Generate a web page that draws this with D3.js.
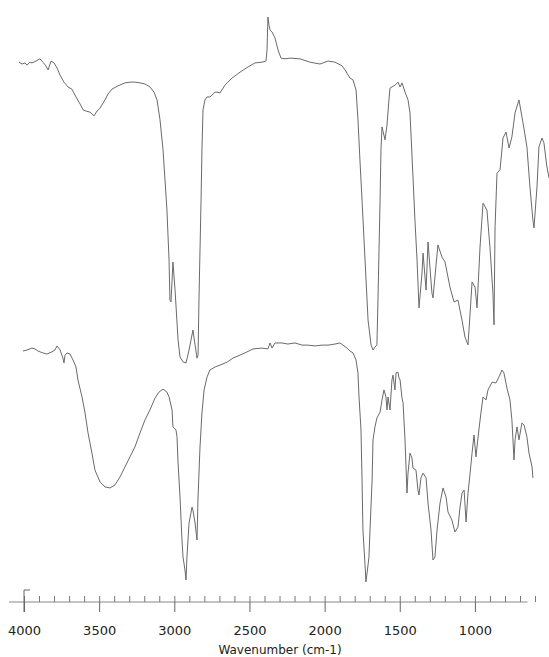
<!DOCTYPE html>
<html>
<head>
<meta charset="utf-8">
<script src="https://cdn.jsdelivr.net/npm/d3@7"></script>
<style>
  body { margin: 0; background: #fff; }
  svg { display: block; }
</style>
</head>
<body>
<script>
// Upper spectrum: wavenumber (cm-1) and relative transmittance
const topWavenumber = [
  4033,4013,3993,3980,3960,3947,3920,3894,3874,3854,
  3840,3820,3800,3780,3760,3734,3707,3681,3654,3627,
  3607,3588,3561,3534,3514,3494,3461,3441,3415,3375,
  3328,3295,3262,3228,3195,3162,3135,3115,3095,3075,
  3062,3049,3035,3029,3022,3009,2995,2975,2962,2942,
  2922,2902,2876,2862,2849,2842,2836,2829,2822,2816,
  2809,2796,2782,2763,2749,2729,2716,2696,2683,2663,
  2616,2563,2510,2463,2417,2390,2383,2377,2370,2363,
  2350,2330,2310,2290,2264,2230,2164,2097,2031,1977,
  1931,1884,1864,1831,1811,1791,1778,1765,1751,1731,
  1711,1691,1678,1665,1652,1645,1638,1631,1625,1618,
  1598,1585,1572,1565,1552,1532,1512,1498,1485,1465,
  1445,1432,1412,1399,1385,1372,1352,1345,1325,1312,
  1286,1279,1246,1219,1199,1166,1139,1113,1086,1066,
  1046,1032,1019,999,986,966,946,920,900,880,
  873,866,853,833,813,793,773,754,733,707,
  680,654,634,614,607,587,574,554,541,521,
  507
];
const topTransmittance = [
  85.9,85.4,85.7,85.1,85.9,85.7,86.2,86.8,85.9,84.9,
  83.8,86.2,85.7,84.3,82.4,80.5,79.2,78.6,76.5,74.6,
  73.0,72.7,72.4,71.4,72.7,73.5,75.7,77.3,78.6,79.5,
  80.3,80.5,80.5,80.3,80.0,79.2,77.8,75.7,70.3,62.2,
  54.1,45.9,32.4,21.6,21.1,31.9,24.3,10.8,6.2,4.9,
  4.6,8.1,13.5,9.5,5.9,6.8,21.6,35.1,48.6,62.2,
  73.0,75.7,76.5,76.5,77.0,77.8,77.8,77.6,78.4,79.7,
  81.6,83.2,84.6,85.7,85.9,86.2,89.2,98.1,95.9,94.6,
  94.1,92.4,89.2,87.0,86.8,87.0,86.8,85.9,85.4,86.2,
  85.9,84.9,83.8,81.6,81.1,78.4,70.3,59.5,48.6,32.4,
  16.2,9.5,8.1,8.9,9.5,21.6,35.1,48.6,62.2,68.4,
  64.9,68.9,75.7,78.9,79.2,79.7,80.5,79.2,80.3,77.8,
  75.7,72.2,54.9,43.2,32.4,19.5,28.9,34.3,24.3,37.3,
  23.5,22.2,36.5,33.2,31.9,25.1,21.1,21.6,16.2,11.6,
  9.5,18.1,26.5,25.1,19.5,35.9,47.8,45.9,35.9,23.5,
  14.9,41.4,55.9,56.8,65.4,67.0,62.7,65.7,72.2,75.7,
  69.5,63.0,52.2,43.2,41.1,52.2,63.0,65.4,64.1,57.6,
  54.6
];

// Lower spectrum
const bottomWavenumber = [
  4007,3980,3947,3927,3907,3874,3847,3814,3794,3780,
  3760,3741,3734,3727,3714,3694,3674,3654,3641,3614,
  3594,3574,3548,3528,3494,3461,3428,3395,3361,3328,
  3295,3262,3228,3195,3162,3128,3102,3075,3049,3035,
  3015,3009,2989,2982,2975,2962,2949,2942,2929,2922,
  2916,2902,2882,2876,2862,2849,2842,2829,2816,2802,
  2782,2763,2729,2696,2649,2610,2563,2516,2476,2417,
  2377,2363,2350,2330,2284,2244,2197,2150,2111,2064,
  2017,1977,1931,1898,1878,1851,1831,1811,1791,1778,
  1771,1758,1751,1745,1731,1725,1711,1705,1698,1684,
  1678,1665,1652,1631,1618,1605,1592,1585,1578,1565,
  1552,1545,1532,1525,1512,1505,1498,1485,1478,1465,
  1452,1445,1432,1419,1412,1392,1379,1372,1359,1345,
  1325,1312,1292,1279,1266,1252,1232,1212,1192,1179,
  1153,1133,1113,1099,1086,1072,1059,1046,1032,1019,
  1006,993,979,960,946,926,913,886,860,840,
  820,807,787,767,754,740,733,720,707,687,
  673,654,640,620,614
];
const bottomTransmittance = [
  92.2,92.6,93.3,93.0,92.2,91.5,91.1,91.9,92.6,94.1,
  92.6,89.6,87.8,90.7,91.5,91.1,88.9,86.3,81.5,75.2,
  69.3,61.9,54.4,48.1,43.7,41.9,41.5,42.6,45.6,49.3,
  53.0,56.7,61.9,66.7,70.4,74.8,77.0,78.1,77.0,75.2,
  70.4,64.1,63.0,60.4,50.7,38.1,22.2,15.9,11.1,7.4,
  15.9,28.5,34.4,33.3,28.5,22.2,38.1,56.7,69.3,77.8,
  82.6,85.2,86.3,87.0,88.1,89.6,90.7,91.9,93.0,93.3,
  93.0,95.2,93.3,95.2,95.2,94.8,95.2,94.4,94.4,94.1,
  94.4,94.4,94.8,95.2,94.4,93.3,92.2,91.5,88.9,84.1,
  75.2,63.0,44.4,25.9,13.0,6.7,13.0,15.9,25.9,44.4,
  59.3,64.1,67.4,69.6,74.1,77.8,75.2,70.4,75.2,70.4,
  81.5,83.3,77.8,84.1,84.4,82.2,81.5,74.8,73.0,59.3,
  39.6,47.0,54.4,52.6,48.9,48.1,40.7,38.9,45.2,47.0,
  45.2,35.9,25.9,14.8,15.9,25.9,35.9,41.5,38.1,32.6,
  29.6,25.2,27.0,34.4,39.6,40.7,28.9,39.6,47.0,54.4,
  61.1,53.0,60.4,69.3,75.2,74.1,77.8,80.7,80.4,82.6,
  85.2,84.1,78.5,74.1,66.7,51.9,59.3,64.1,59.3,65.6,
  64.8,60.4,54.4,49.3,45.2
];

// Axis ticks
const majorTicks = [4000, 3500, 3000, 2500, 2000, 1500, 1000];
const tickLabels = ["4000", "3500", "3000", "2500", "2000", "1500", "1000"];
const minorTicks = d3.range(4000, 599, -100);
const axisExtent = [4100, 650];
const axisTitle = "Wavenumber (cm-1)";

const W = 549, H = 657;
const svg = d3.select("body").append("svg")
  .attr("width", W).attr("height", H)
  .attr("viewBox", `0 0 ${W} ${H}`);

const x = d3.scaleLinear().domain([4000, 400]).range([24, 565.1]);
const yTop = d3.scaleLinear().domain([0, 100]).range([380, 10]);
const yBottom = d3.scaleLinear().domain([0, 100]).range([600, 330]);

function drawSpectrum(wn, tr, y) {
  const pts = d3.zip(wn, tr);
  const line = d3.line().x(d => x(d[0])).y(d => y(d[1]));
  svg.append("path")
    .datum(pts)
    .attr("d", line)
    .attr("fill", "none")
    .attr("stroke", "#6a6a6a")
    .attr("stroke-width", 1)
    .attr("stroke-linejoin", "round");
}
drawSpectrum(topWavenumber, topTransmittance, yTop);
drawSpectrum(bottomWavenumber, bottomTransmittance, yBottom);

// Wavenumber axis
const axisY = 602;
const axisG = svg.append("g").attr("transform", `translate(0,${axisY})`);

axisG.append("line")
  .attr("x1", x(axisExtent[0])).attr("x2", x(axisExtent[1]))
  .attr("stroke", "#888").attr("stroke-width", 1);

const minorAxis = axisG.append("g")
  .call(d3.axisBottom(x).tickValues(minorTicks).tickSize(-6).tickFormat(""));
minorAxis.select(".domain").remove();
minorAxis.selectAll("line").attr("stroke", "#777");

const majorAxis = axisG.append("g")
  .call(d3.axisBottom(x).tickValues(majorTicks).tickSize(10).tickPadding(14)
    .tickFormat((d, i) => tickLabels[i]));
majorAxis.select(".domain").remove();
majorAxis.selectAll("line").attr("stroke", "#666");
majorAxis.selectAll("text")
  .attr("font-family", "'DejaVu Sans', sans-serif")
  .attr("font-size", 13)
  .attr("fill", "#222");

// Taller start mark at the high-wavenumber end of the axis
axisG.append("line")
  .attr("x1", x(majorTicks[0])).attr("x2", x(majorTicks[0]))
  .attr("y1", -12).attr("y2", 10)
  .attr("stroke", "#666");
axisG.append("line")
  .attr("x1", x(majorTicks[0])).attr("x2", x(majorTicks[0]) + 6)
  .attr("y1", -12).attr("y2", -12)
  .attr("stroke", "#666");

svg.append("text")
  .attr("x", 280).attr("y", 654)
  .attr("text-anchor", "middle")
  .attr("font-family", "'DejaVu Sans', sans-serif")
  .attr("font-size", 12)
  .attr("fill", "#222")
  .text(axisTitle);
</script>
</body>
</html>
